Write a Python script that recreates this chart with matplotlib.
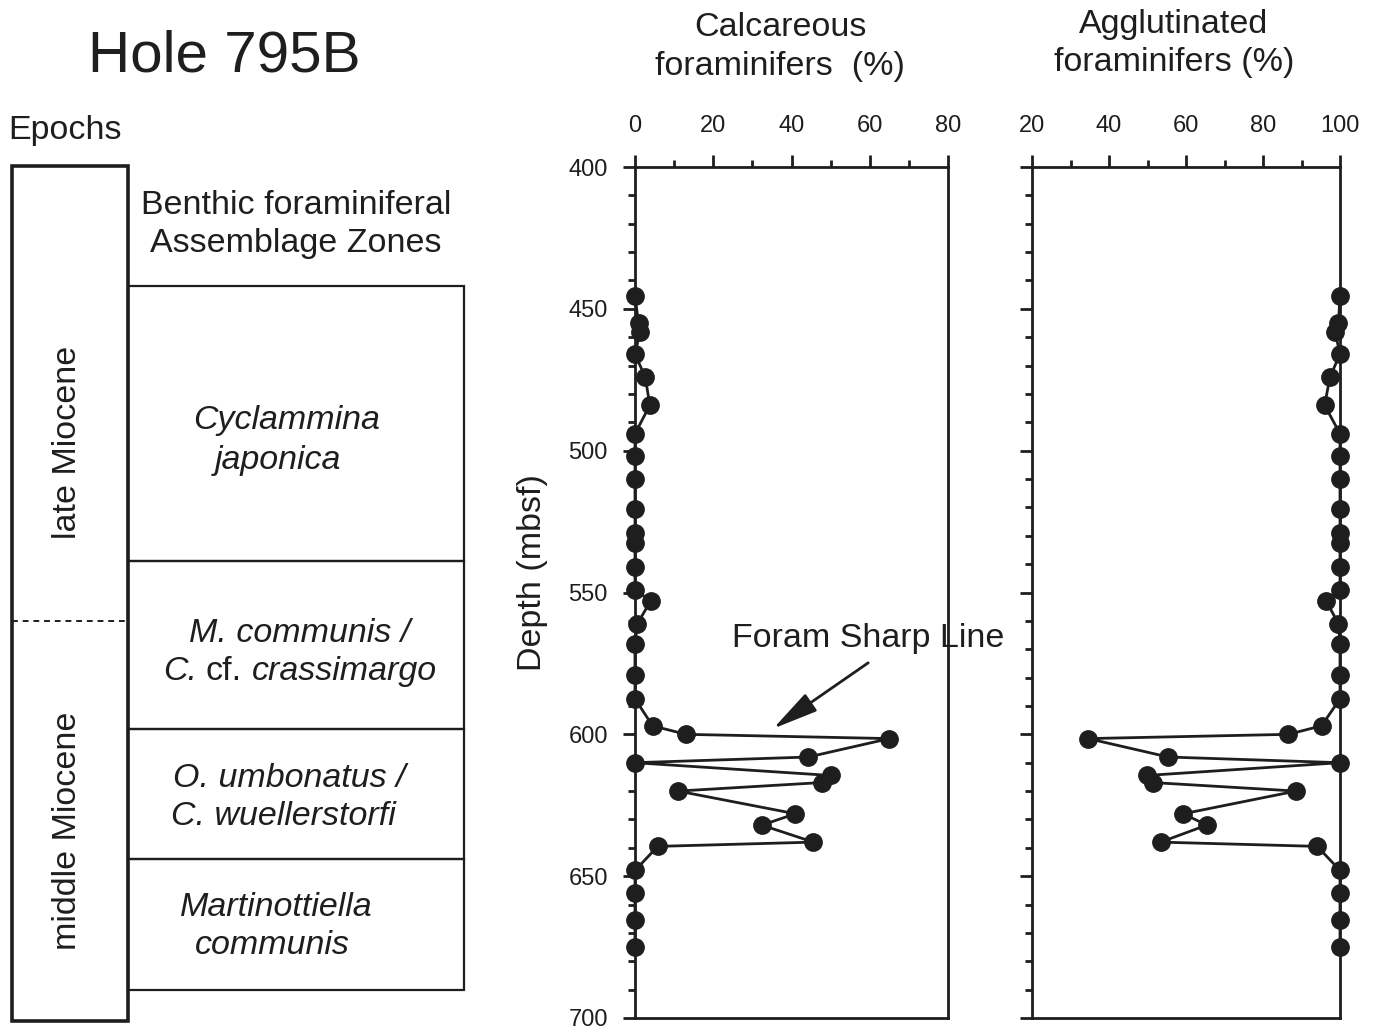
import matplotlib
matplotlib.use("Agg")
import matplotlib.pyplot as plt
from matplotlib.patches import Rectangle
from matplotlib.ticker import MultipleLocator

plt.rcParams['font.family'] = ['Liberation Sans', 'DejaVu Sans']

ink = '#1e1e1e'

# sample depths (mbsf) and foraminifer percentages, Hole 795B
depth = [445.5, 455, 458, 466, 474, 484, 494, 502, 510, 520.5, 529, 532.5,
         541, 549, 553, 561, 568, 579, 587.5, 597, 600, 601.5, 608, 610,
         614.5, 617, 620, 628, 632, 638, 639.5, 648, 656, 665.5, 675]
calcareous = [0, 0.9, 1.3, 0, 2.6, 3.8, 0, 0, 0, 0, 0, 0,
              0, 0, 4, 0.6, 0, 0, 0, 4.5, 13, 65, 44.3, 0,
              50, 47.7, 11, 41, 32.4, 45.6, 5.8, 0, 0, 0, 0]
agglutinated = [100, 99.6, 98.7, 100, 97.4, 96, 100, 100, 100, 100, 100, 100,
                100, 100, 96.4, 99.6, 100, 100, 100, 95.2, 86.6, 34.6, 55.4, 100,
                49.8, 51.4, 88.6, 59.3, 65.4, 53.4, 94.1, 100, 100, 100, 100]

# epochs and benthic assemblage zones
epoch_names = ['late Miocene', 'middle Miocene']
epoch_label_depth = [497, 634]
epoch_top, epoch_base = 399.5, 701
epoch_boundary = 560
zone_tops = [442, 539, 598, 644]
zone_bases = [539, 598, 644, 690]
zone_lines = [('Cyclammina', 'japonica'),
              ('M. communis /', None),
              ('O. umbonatus /', 'C. wuellerstorfi'),
              ('Martinottiella', 'communis')]
zone_line_depths = [(489.5, 503.6), (564.3, 577.7), (615.7, 628.8), (661.2, 674.3)]
zone_line_x = [(0.608, 0.588), (0.637, 0.334), (0.613, 0.601), (0.584, 0.576)]
sharp_line_depth = 598

W, H = 1374, 1035
fig = plt.figure(figsize=(W / 100, H / 100), dpi=100)

def px_axes(x0, x1, y0, y1):
    return fig.add_axes([x0 / W, 1 - y1 / H, (x1 - x0) / W, (y1 - y0) / H])

ax_z = px_axes(12, 464, 167, 1018)
ax_c = px_axes(635, 948, 167, 1018)
ax_a = px_axes(1032, 1340, 167, 1018)

# ---- stratigraphic column
ax_z.set_xlim(0, 1)
ax_z.set_ylim(700, 400)
ax_z.axis('off')
col_w = (128 - 12) / 452
ax_z.add_patch(Rectangle((0, epoch_top), col_w, epoch_base - epoch_top, fill=False,
                         ec=ink, lw=2.6, clip_on=False))
ax_z.plot([0, col_w], [epoch_boundary, epoch_boundary], color=ink, lw=1.4,
          ls=(0, (3, 2.5)), clip_on=False)
for name, yd in zip(epoch_names, epoch_label_depth):
    ax_z.text(0.123, yd, name, rotation=90, ha='center', va='center',
              fontsize=24.5, color=ink)

zfont = dict(fontsize=24.5, color=ink)
for top, base in zip(zone_tops, zone_bases):
    ax_z.add_patch(Rectangle((col_w, top), 1 - col_w, base - top, fill=False,
                             ec=ink, lw=1.6, clip_on=False))
for (l1, l2), (d1, d2), (x1, x2) in zip(zone_lines, zone_line_depths, zone_line_x):
    ax_z.text(x1, d1, l1, ha='center', va='center', style='italic', **zfont)
    if l2 is not None:
        ax_z.text(x2, d2, l2, ha='center', va='center', style='italic', **zfont)

# "C. cf. crassimargo": italic genus and species, upright "cf."
d_cf = zone_line_depths[1][1]
t1 = ax_z.text(zone_line_x[1][1], d_cf, 'C.', ha='left', va='center',
               style='italic', **zfont)
t2 = ax_z.annotate('cf.', xy=(1, 0), xycoords=t1, xytext=(6.5, 0),
                   textcoords='offset points', ha='left', va='bottom', **zfont)
ax_z.annotate('crassimargo', xy=(1, 0), xycoords=t2, xytext=(7, 0),
              textcoords='offset points', ha='left', va='bottom',
              style='italic', **zfont)

ax_z.text(0.628, 413.4, 'Benthic foraminiferal', ha='center', va='center', **zfont)
ax_z.text(0.628, 426.8, 'Assemblage Zones', ha='center', va='center', **zfont)

fig.text(224 / W, 1 - 57 / H, 'Hole 795B', ha='center', va='center',
         fontsize=42, color=ink)
fig.text(8 / W, 1 - 130 / H, 'Epochs', ha='left', va='center', **zfont)


def style_panel(ax, xlo, xhi):
    ax.set_xlim(xlo, xhi)
    ax.set_ylim(700, 400)
    ax.xaxis.tick_top()
    ax.xaxis.set_major_locator(MultipleLocator(20))
    ax.xaxis.set_minor_locator(MultipleLocator(10))
    ax.yaxis.set_major_locator(MultipleLocator(50))
    ax.yaxis.set_minor_locator(MultipleLocator(10))
    ax.tick_params(which='major', direction='out', length=8.5, width=2,
                   color=ink, labelcolor=ink, labelsize=17, pad=11)
    ax.tick_params(axis='x', which='major', pad=13)
    ax.tick_params(which='minor', direction='out', length=5, width=2, color=ink)
    for s in ax.spines.values():
        s.set_linewidth(2)
        s.set_color(ink)


style_panel(ax_c, 0, 80)
ax_c.plot(calcareous, depth, '-o', color=ink, lw=2, ms=12.5, clip_on=False, zorder=5)
fig.text(532 / W, 1 - 573 / H, 'Depth (mbsf)', rotation=90, ha='center',
         va='center', **zfont)
ax_c.text(24.8, 566.3, 'Foram Sharp Line', ha='left', va='center',
          clip_on=False, zorder=6, **zfont)
ax_c.annotate('', xy=(35.3, sharp_line_depth), xytext=(59.6, 574.8),
              arrowprops=dict(arrowstyle='-|>,head_length=1.4,head_width=0.32',
                              mutation_scale=20, lw=2, color=ink,
                              shrinkA=0, shrinkB=0))

style_panel(ax_a, 20, 100)
ax_a.tick_params(axis='y', labelleft=False)
ax_a.plot(agglutinated, depth, '-o', color=ink, lw=2, ms=12.5, clip_on=False, zorder=5)

for cx, lines in [(780, [(28, 'Calcareous'), (66, 'foraminifers  (%)')]),
                  (1174, [(24, 'Agglutinated'), (63, 'foraminifers (%)')])]:
    for yy, t in lines:
        fig.text(cx / W, 1 - yy / H, t, ha='center', va='center', **zfont)

fig.savefig('out.png', dpi=100, facecolor='white')
